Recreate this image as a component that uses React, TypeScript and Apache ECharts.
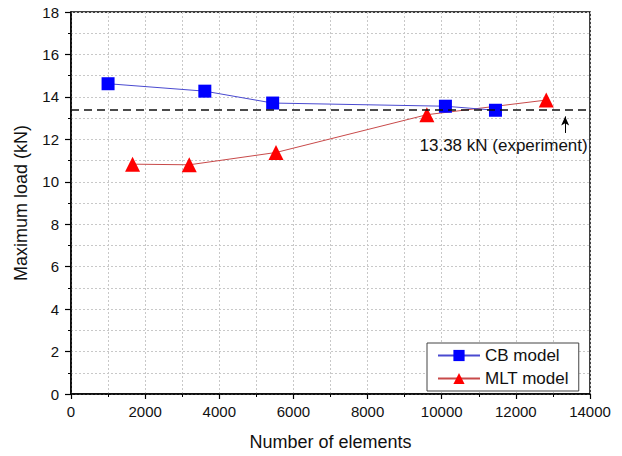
import React, { useEffect, useRef } from "react";
import * as echarts from "echarts";

const cbElements = [1000, 3610, 5440, 10100, 11450];
const cbLoad = [14.62, 14.27, 13.71, 13.56, 13.37];
const mltElements = [1660, 3190, 5530, 9600, 12820];
const mltLoad = [10.83, 10.8, 11.38, 13.16, 13.85];
const experimentLoad = 13.38;
const experimentLabel = "13.38 kN (experiment)";
const arrowX = 13330;
const arrowFrom = 12.3;
const arrowTo = 13.08;
const labelPos = [11670, 11.72];

const FONT = "'Liberation Sans', Arial, sans-serif";

export default function App() {
  const ref = useRef<HTMLDivElement>(null);
  useEffect(() => {
    if (!ref.current) return;
    const chart = echarts.init(ref.current, null, { renderer: "svg" });
    const gridLine = { show: true, lineStyle: { color: "#c8c8c8", type: [2, 2], width: 1 } };
    chart.setOption({
      animation: false,
      backgroundColor: "#ffffff",
      textStyle: { fontFamily: FONT },
      grid: { left: 71, right: 32, top: 12, bottom: 62, show: true, borderColor: "#000", borderWidth: 1.5, backgroundColor: "transparent" },
      legend: {
        orient: "vertical",
        left: 427,
        top: 343,
        padding: [4, 10, 4, 10],
        itemGap: 6,
        itemWidth: 42,
        itemHeight: 14,
        borderColor: "#444",
        borderWidth: 1,
        backgroundColor: "#fff",
        textStyle: { fontSize: 17, color: "#111", fontFamily: FONT },
        data: ["CB model", "MLT model"],
      },
      xAxis: {
        type: "value",
        min: 0,
        max: 14000,
        interval: 2000,
        name: "Number of elements",
        nameLocation: "middle",
        nameGap: 39,
        nameTextStyle: { fontSize: 18, color: "#111", fontFamily: FONT },
        axisLine: { show: true, onZero: false, lineStyle: { color: "#000", width: 1.5 } },
        axisTick: { show: true, length: 5, lineStyle: { color: "#000", width: 1.2 } },
        minorTick: { show: true, splitNumber: 2, length: 3, lineStyle: { color: "#000", width: 1 } },
        axisLabel: { fontSize: 15, color: "#111", margin: 10, fontFamily: FONT, formatter: (v: number) => String(v) },
        splitLine: gridLine,
        minorSplitLine: gridLine,
      },
      yAxis: {
        type: "value",
        min: 0,
        max: 18,
        interval: 2,
        name: "Maximum load (kN)",
        nameLocation: "middle",
        nameGap: 41,
        nameTextStyle: { fontSize: 18, color: "#111", fontFamily: FONT },
        axisLine: { show: true, onZero: false, lineStyle: { color: "#000", width: 1.5 } },
        axisTick: { show: true, length: 6, lineStyle: { color: "#000", width: 1.2 } },
        minorTick: { show: true, splitNumber: 2, length: 3, lineStyle: { color: "#000", width: 1 } },
        axisLabel: { fontSize: 15, color: "#111", margin: 12, fontFamily: FONT, formatter: (v: number) => String(v) },
        splitLine: gridLine,
        minorSplitLine: gridLine,
      },
      series: [
        {
          name: "CB model",
          type: "line",
          data: cbElements.map((x, i) => [x, cbLoad[i]]),
          symbol: "rect",
          symbolSize: 13,
          itemStyle: { color: "#0000ff" },
          lineStyle: { color: "#4a4ad0", width: 1 },
          z: 4,
          markLine: {
            silent: true,
            symbol: ["none", "none"],
            label: { show: false },
            lineStyle: { color: "#111", type: [8, 5], width: 1.5 },
            data: [[{ coord: [0, experimentLoad] }, { coord: [14000, experimentLoad] }]],
          },
        },
        {
          name: "MLT model",
          type: "line",
          data: mltElements.map((x, i) => [x, mltLoad[i]]),
          symbol: "triangle",
          symbolSize: 15,
          itemStyle: { color: "#ff0000" },
          lineStyle: { color: "#c84a4a", width: 1 },
          z: 3,
          markLine: {
            silent: true,
            symbol: ["none", "arrow"],
            symbolSize: [6, 9],
            label: { show: false },
            lineStyle: { color: "#000", type: "solid", width: 1 },
            data: [[{ coord: [arrowX, arrowFrom] }, { coord: [arrowX, arrowTo] }]],
          },
          markPoint: {
            silent: true,
            symbol: "circle",
            symbolSize: 0,
            label: {
              show: true,
              formatter: experimentLabel,
              fontSize: 17,
              color: "#111",
              fontFamily: FONT,
              position: "inside",
            },
            data: [{ coord: labelPos }],
          },
        },
      ],
    });
    return () => chart.dispose();
  }, []);
  return <div ref={ref} style={{ width: 622, height: 456, position: "absolute", left: 0, top: 0 }} />;
}
